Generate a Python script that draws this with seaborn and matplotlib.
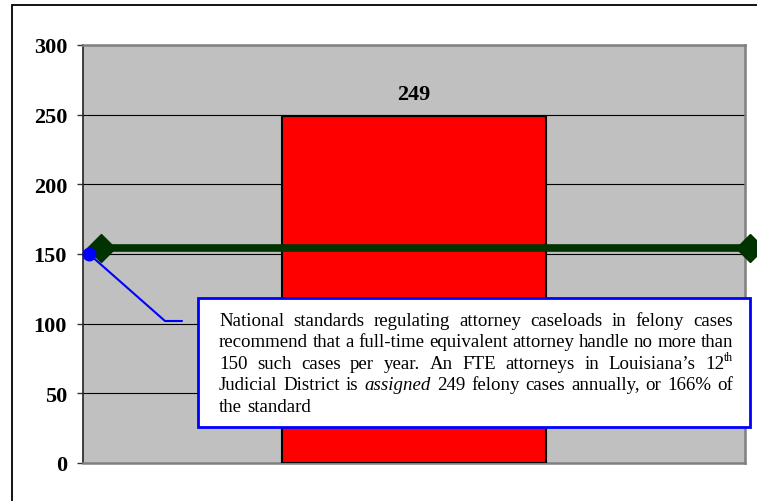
import matplotlib
matplotlib.use("Agg")
import matplotlib.pyplot as plt
import seaborn as sns
import pandas as pd
from matplotlib.patches import Rectangle
from matplotlib.lines import Line2D
from matplotlib.transforms import blended_transform_factory

# ---------------- data ----------------
categories = ["Felony cases per FTE attorney"]
caseloads = [249]
standard_value = 150          # national standard (blue callout point)
standard_line_value = 154     # green standard line as drawn
y_ticks = [0, 50, 100, 150, 200, 250, 300]
note_lines = [
    "National standards regulating attorney caseloads in felony cases",
    "recommend that a full-time equivalent attorney handle no more than",
    "150 such cases per year. An FTE attorneys in Louisiana’s 12^th",
    "Judicial District is *assigned* 249 felony cases annually, or 166% of",
    "the standard",
]

# ---------------- layout helpers ----------------
W, H = 757, 502
def fx(x):
    return x / W
def fy(y):
    return 1 - y / H

sns.set_theme(style="white")
plt.rcParams["font.family"] = ["Liberation Serif", "DejaVu Serif"]

fig = plt.figure(figsize=(W / 100, H / 100), dpi=100)
fig.patch.set_facecolor("white")

ax = fig.add_axes([fx(83), fy(464), (745 - 83) / W, (464 - 46) / H])
ax.set_facecolor("#C0C0C0")

df = pd.DataFrame({"category": categories, "cases": caseloads})
sns.barplot(data=df, x="category", y="cases", color="#FF0000", saturation=1,
            width=0.4, edgecolor="black", linewidth=1.5, ax=ax, zorder=3)

ax.set_xlim(-0.5, 0.5)
ax.set_ylim(0, 300)
ax.set_yticks(y_ticks)
ax.set_yticklabels([str(t) for t in y_ticks], fontweight="bold", fontsize=16,
                   color="black")
ax.tick_params(axis="y", left=True, length=4.5, width=1, pad=7, color="#333333")
ax.tick_params(axis="x", bottom=False, labelbottom=False)
ax.set_xlabel("")
ax.set_ylabel("")
ax.grid(False)
for t in y_ticks[1:-1]:
    ax.axhline(t, color="black", lw=0.8, zorder=1)

for side in ["top", "right", "bottom"]:
    ax.spines[side].set_color("#808080")
    ax.spines[side].set_linewidth(1.8)
ax.spines["left"].set_color("#222222")
ax.spines["left"].set_linewidth(1.2)

ax.bar_label(ax.containers[0], fmt="%d", padding=9, fontweight="bold",
             fontsize=16, color="black")

# green standard line with diamond ends
trans = blended_transform_factory(ax.transAxes, ax.transData)
ax.plot([0.027, 1.008], [standard_line_value, standard_line_value],
        transform=trans, color="#003300", lw=5.5, marker="D", ms=14,
        clip_on=False, zorder=5)

# blue callout point + leader
ax.plot([0.009], [standard_value], marker="o", color="#0000FF", ms=9,
        transform=trans, clip_on=False, zorder=6)
fig.add_artist(Line2D([fx(89), fx(165), fx(182)], [fy(255), fy(322), fy(322)],
                      transform=fig.transFigure, color="#0000FF", lw=1.5,
                      zorder=6))

# callout box
fig.add_artist(Rectangle((fx(198), fy(428)), (750 - 198) / W, (428 - 299) / H,
                         transform=fig.transFigure, facecolor="white",
                         edgecolor="#0000FF", lw=2, zorder=7))

# figure border (only left/top visible in the crop)
fig.add_artist(Rectangle((fx(11.5), fy(620)), (900 - 11.5) / W, (620 - 6) / H,
                         transform=fig.transFigure, fill=False,
                         edgecolor="black", lw=1.3, zorder=8))

# ---------------- justified note text ----------------
fig.canvas.draw()
renderer = fig.canvas.get_renderer()

def measure(s, size, style="normal"):
    t = fig.text(0, 0, s, fontsize=size, style=style)
    w = t.get_window_extent(renderer).width
    t.remove()
    return w

x0, x1 = 219, 733
fs = 10 * 515 / measure(note_lines[1], 10)
space_w = measure("a a", fs) - measure("aa", fs)
sup_fs = fs * 0.62
sup_rise = fs * 100 / 72 * 0.40

def parse(word):
    if word.startswith("*") and word.endswith("*"):
        return [(word[1:-1], "italic", False)]
    if "^" in word:
        base, sup = word.split("^")
        return [(base, "normal", False), (sup, "normal", True)]
    return [(word, "normal", False)]

baseline0, step = 326, 21.4
for i, line in enumerate(note_lines):
    words = [parse(w) for w in line.split(" ")]
    widths = []
    for pieces in words:
        wsum = 0
        for txt, sty, sup in pieces:
            wsum += measure(txt, sup_fs if sup else fs, sty)
        widths.append(wsum)
    last = i == len(note_lines) - 1
    if last or len(words) == 1:
        gap = space_w
    else:
        gap = (x1 - x0 - sum(widths)) / (len(words) - 1)
    x = x0
    yb = baseline0 + step * i
    for pieces, wd in zip(words, widths):
        xx = x
        for txt, sty, sup in pieces:
            size = sup_fs if sup else fs
            yy = yb - (sup_rise if sup else 0)
            fig.text(fx(xx), fy(yy), txt, fontsize=size, style=sty,
                     ha="left", va="baseline", color="black", zorder=9)
            xx += measure(txt, size, sty)
        x += wd + gap

fig.savefig("out.png", dpi=100)
